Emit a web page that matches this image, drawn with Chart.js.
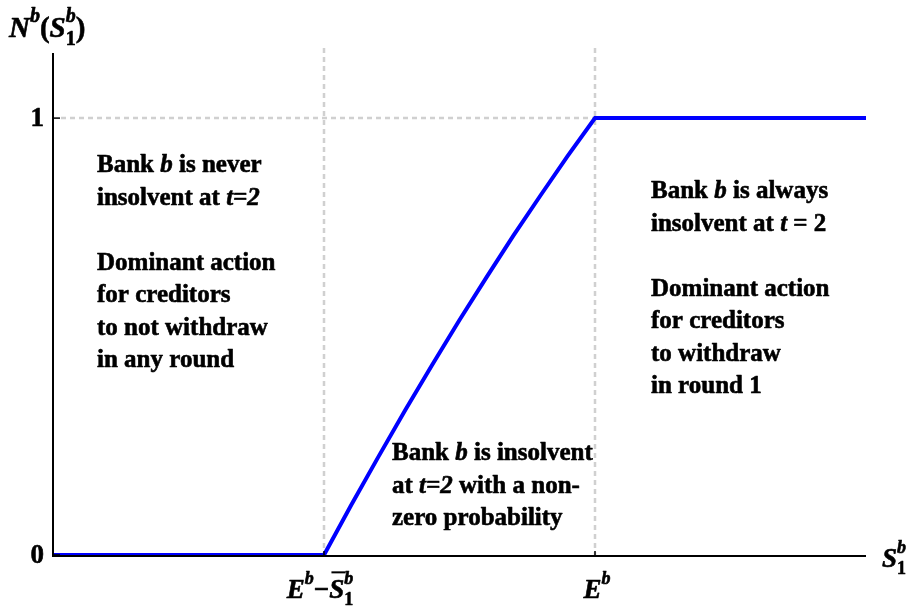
<!DOCTYPE html>
<html>
<head>
<meta charset="utf-8">
<script src="https://cdn.jsdelivr.net/npm/chart.js@4.4.1/dist/chart.umd.min.js"></script>
<style>
  html, body { margin: 0; padding: 0; background: #ffffff; }
  #wrap { width: 912px; height: 610px; position: relative; }
</style>
</head>
<body>
<div id="wrap"><canvas id="c"></canvas></div>
<script>
// ---- data ----
const xValues = [0, 1, 1.1, 1.2, 1.3, 1.4, 1.5, 1.6, 1.7, 1.8, 1.9, 2, 3];
const yValues = [0, 0, 0.114, 0.224, 0.332, 0.436, 0.538, 0.636, 0.732, 0.824, 0.914, 1, 1];
const xTicks = [1, 2];
const yTicks = [0, 1];
const yTickLabels = ['0', '1'];
const xRange = [0, 3];
const yRange = [0, 1.149];

// rich-text runs: t=text, i=italic, sup/sub/bar flags
const xTickLabels = [
  [{t:'E', i:1}, {t:'b', i:1, sup:1}, {t:'\u2212'}, {t:'S', i:1, bar:1}, {t:'b', i:1, sup:1, stay:1}, {t:'1', sub:1}],
  [{t:'E', i:1}, {t:'b', i:1, sup:1}]
];
const yAxisTitle = [{t:'N', i:1}, {t:'b', i:1, sup:1}, {t:'('}, {t:'S', i:1}, {t:'b', i:1, sup:1, stay:1}, {t:'1', sub:1}, {t:')'}];
const xAxisTitle = [{t:'S', i:1}, {t:'b', i:1, sup:1, stay:1}, {t:'1', sub:1}];

const leftNote = [
  [{t:'Bank '}, {t:'b', i:1}, {t:' is never'}],
  [{t:'insolvent at '}, {t:'t=2', i:1}],
  [],
  [{t:'Dominant action'}],
  [{t:'for creditors'}],
  [{t:'to not withdraw'}],
  [{t:'in any round'}]
];
const middleNote = [
  [{t:'Bank '}, {t:'b', i:1}, {t:' is insolvent'}],
  [{t:'at '}, {t:'t=2', i:1}, {t:' with a non-'}],
  [{t:'zero probability'}]
];
const rightNote = [
  [{t:'Bank '}, {t:'b', i:1}, {t:' is always'}],
  [{t:'insolvent at '}, {t:'t', i:1}, {t:' = 2'}],
  [],
  [{t:'Dominant action'}],
  [{t:'for creditors'}],
  [{t:'to withdraw'}],
  [{t:'in round 1'}]
];

const SERIF = '"Liberation Serif", "Times New Roman", serif';

function runFont(r, size) {
  const s = (r.sup || r.sub) ? Math.round(size * 0.68) : size;
  return (r.i ? 'italic ' : '') + 'bold ' + s + 'px ' + SERIF;
}
function richWidth(ctx, runs, size) {
  let cx = 0, stayW = 0;
  for (const r of runs) {
    ctx.font = runFont(r, size);
    const w = ctx.measureText(r.t).width;
    if (r.stay) { stayW = w; }
    else { cx += Math.max(w, stayW); stayW = 0; }
  }
  return cx;
}
function drawRich(ctx, runs, x, y, size, align) {
  let cx = x;
  if (align === 'center') cx = x - richWidth(ctx, runs, size) / 2;
  else if (align === 'right') cx = x - richWidth(ctx, runs, size);
  let stayW = 0;
  ctx.textBaseline = 'alphabetic';
  ctx.textAlign = 'left';
  ctx.fillStyle = '#000';
  ctx.strokeStyle = '#000';
  ctx.lineJoin = 'round';
  for (const r of runs) {
    ctx.font = runFont(r, size);
    const w = ctx.measureText(r.t).width;
    let dy = 0;
    if (r.sup) dy = -size * 0.52;
    if (r.sub) dy = size * 0.26;
    ctx.lineWidth = 0.6;
    ctx.fillText(r.t, cx, y + dy);
    ctx.strokeText(r.t, cx, y + dy);
    if (r.bar) {
      ctx.lineWidth = 2;
      ctx.beginPath();
      ctx.moveTo(cx + w * 0.15, y - size * 0.95);
      ctx.lineTo(cx + w * 1.1, y - size * 0.95);
      ctx.stroke();
    }
    if (r.stay) { stayW = w; }
    else { cx += Math.max(w, stayW); stayW = 0; }
  }
}
function drawNote(ctx, lines, x, y, lh) {
  lines.forEach((runs, k) => { if (runs.length) drawRich(ctx, runs, x, y + k * lh, 25, 'left'); });
}

const decor = {
  id: 'decor',
  beforeDatasetsDraw(chart) {
    const {ctx, scales:{x, y}, chartArea:a} = chart;
    ctx.save();
    ctx.strokeStyle = '#d0d0d0';
    ctx.lineWidth = 2.5;
    ctx.setLineDash([5, 4]);
    for (const v of xTicks) {
      const px = Math.round(x.getPixelForValue(v));
      ctx.beginPath(); ctx.moveTo(px, a.top - 5); ctx.lineTo(px, a.bottom); ctx.stroke();
    }
    const py = Math.round(y.getPixelForValue(1));
    ctx.beginPath(); ctx.moveTo(x.getPixelForValue(0) + 8, py); ctx.lineTo(x.getPixelForValue(2), py); ctx.stroke();
    ctx.restore();
  },
  afterDatasetsDraw(chart) {
    const {ctx, scales:{x, y}, chartArea:a} = chart;
    ctx.save();
    // axes
    ctx.strokeStyle = '#000';
    ctx.lineWidth = 2;
    const x0 = x.getPixelForValue(0), y0 = y.getPixelForValue(0);
    ctx.beginPath(); ctx.moveTo(x0, a.top); ctx.lineTo(x0, y0 + 1); ctx.lineTo(a.right, y0 + 1); ctx.stroke();
    // ticks
    ctx.lineWidth = 1.5;
    for (const v of yTicks) {
      const py = y.getPixelForValue(v);
      ctx.beginPath(); ctx.moveTo(x0, py); ctx.lineTo(x0 + 7, py); ctx.stroke();
    }
    for (const v of xTicks) {
      const px = x.getPixelForValue(v);
      ctx.beginPath(); ctx.moveTo(px, y0 + 1); ctx.lineTo(px, y0 - 4); ctx.stroke();
    }
    // tick labels
    yTicks.forEach((v, k) => {
      drawRich(ctx, [{t: yTickLabels[k]}], x0 - 9, y.getPixelForValue(v) + 8, 27, 'right');
    });
    const xShift = [-4, 2];
    xTicks.forEach((v, k) => {
      drawRich(ctx, xTickLabels[k], x.getPixelForValue(v) + xShift[k], 598, 27, 'center');
    });
    // axis titles
    drawRich(ctx, yAxisTitle, 9, 37, 29, 'left');
    drawRich(ctx, xAxisTitle, 882, 567, 27, 'left');
    // notes
    drawNote(ctx, leftNote, 97, 172, 32.5);
    drawNote(ctx, middleNote, 392, 460, 32.5);
    drawNote(ctx, rightNote, 651, 198, 32.5);
    ctx.restore();
  }
};

new Chart(document.getElementById('c'), {
  type: 'scatter',
  data: {
    datasets: [{
      data: xValues.map((v, k) => ({x: v, y: yValues[k]})),
      showLine: true,
      borderColor: '#0000ff',
      borderWidth: 4,
      pointRadius: 0,
      tension: 0,
      clip: false
    }]
  },
  options: {
    responsive: true,
    maintainAspectRatio: false,
    animation: false,
    layout: { padding: { left: 53, right: 46, top: 53, bottom: 55 } },
    scales: {
      x: { type: 'linear', min: xRange[0], max: xRange[1], display: false },
      y: { type: 'linear', min: yRange[0], max: yRange[1], display: false }
    },
    plugins: { legend: { display: false }, tooltip: { enabled: false } }
  },
  plugins: [decor]
});
</script>
</body>
</html>
